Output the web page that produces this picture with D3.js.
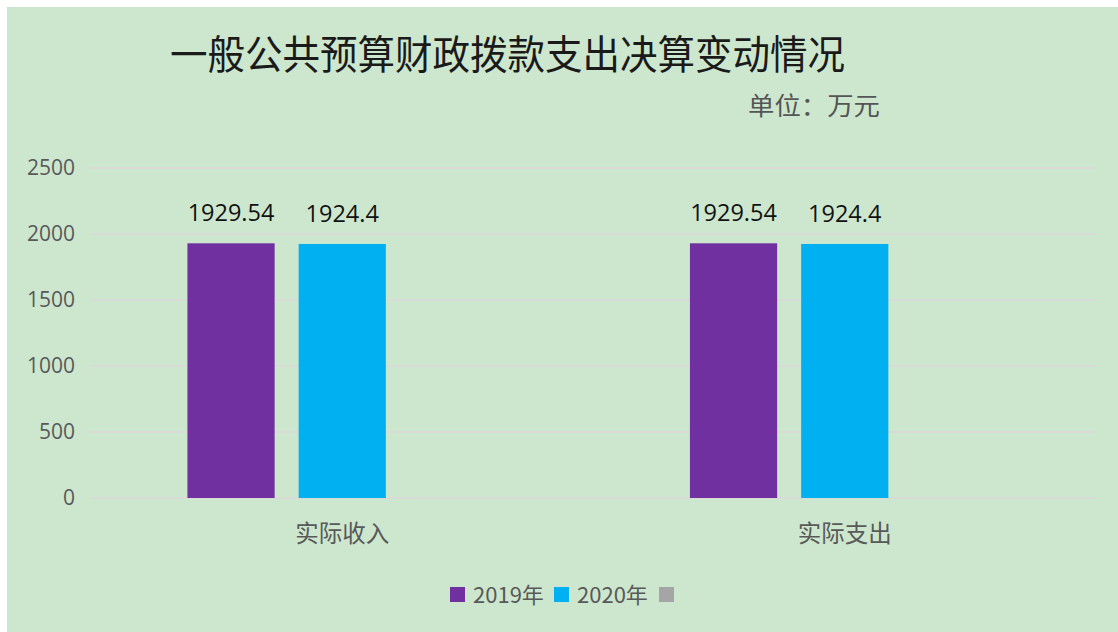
<!DOCTYPE html>
<html>
<head>
<meta charset="utf-8">
<script src="https://cdn.jsdelivr.net/npm/d3@7"></script>
<style>
  body { margin: 0; background: #fff; }
  svg text { font-family: "Noto Sans CJK SC", "Open Sans", sans-serif; }
</style>
</head>
<body>
<div id="chart"></div>
<script>
const categories = ["实际收入", "实际支出"];
const seriesNames = ["2019年", "2020年", ""];
const values2019 = [1929.54, 1929.54];
const values2020 = [1924.4, 1924.4];
const values3 = [null, null];
const yTicks = [0, 500, 1000, 1500, 2000, 2500];
const colors = ["#7030a0", "#00b0f0", "#a5a5a5"];

const W = 1118, H = 632;
const svg = d3.select("#chart").append("svg")
    .attr("width", W).attr("height", H);

// chart background
svg.append("rect").attr("x", 7).attr("y", 7).attr("width", W - 7).attr("height", H - 7)
    .attr("fill", "#cde7cf");

const plot = {left: 91, right: 1096, top: 168, bottom: 498};

const x0 = d3.scaleBand().domain(categories).range([plot.left, plot.right]);
const x1 = d3.scaleBand().domain(d3.range(seriesNames.length)).range([0, x0.bandwidth()])
    .paddingInner(0.216).paddingOuter(0.867);
const y = d3.scaleLinear().domain([0, 2500]).range([plot.bottom, plot.top]);

// gridlines
svg.append("g")
    .selectAll("line").data(yTicks).enter().append("line")
    .attr("x1", plot.left).attr("x2", plot.right)
    .attr("y1", d => y(d)).attr("y2", d => y(d))
    .attr("stroke", "#d8dbd6").attr("stroke-width", 2);

// y axis
const yAxis = svg.append("g")
    .attr("transform", `translate(${plot.left},0)`)
    .call(d3.axisLeft(y).tickValues(yTicks).tickFormat(d3.format("d")).tickSize(0).tickPadding(16));
yAxis.select(".domain").remove();
yAxis.selectAll("text").attr("font-size", 21).attr("fill", "#595959")
    .style("font-family", "'Open Sans', sans-serif");

// x axis labels
svg.append("g").selectAll("text").data(categories).enter().append("text")
    .attr("x", d => x0(d) + x0.bandwidth() / 2)
    .attr("y", 542)
    .attr("text-anchor", "middle")
    .attr("font-size", 23.5)
    .attr("fill", "#595959")
    .text(d => d);

const series = [values2019, values2020, values3];

series.forEach((vals, i) => {
    const g = svg.append("g");
    const rows = categories.map((c, j) => ({c, v: vals[j]})).filter(d => d.v != null);
    g.selectAll("rect").data(rows).enter().append("rect")
        .attr("x", d => x0(d.c) + x1(i))
        .attr("width", x1.bandwidth())
        .attr("y", d => y(d.v))
        .attr("height", d => y(0) - y(d.v))
        .attr("fill", colors[i]);
    g.selectAll("text").data(rows).enter().append("text")
        .attr("x", d => x0(d.c) + x1(i) + x1.bandwidth() / 2)
        .attr("y", d => y(d.v) - 22)
        .attr("text-anchor", "middle")
        .attr("font-size", 23.5)
        .attr("fill", "#111")
        .style("font-family", "'Open Sans', sans-serif")
        .text(d => d.v);
});

// title
svg.append("text")
    .attr("x", 170).attr("y", 69)
    .attr("font-size", 40)
    .attr("textLength", 675)
    .attr("lengthAdjust", "spacingAndGlyphs")
    .attr("fill", "#1a1a1a")
    .text("一般公共预算财政拨款支出决算变动情况");

svg.append("text")
    .attr("x", 748).attr("y", 115)
    .attr("font-size", 25)
    .attr("textLength", 132)
    .attr("lengthAdjust", "spacingAndGlyphs")
    .attr("fill", "#555")
    .text("单位：万元");

// legend
const legend = svg.append("g");
const legendX = [450, 554, 659];
seriesNames.forEach((name, i) => {
    legend.append("rect")
        .attr("x", legendX[i]).attr("y", 587)
        .attr("width", 15).attr("height", 15)
        .attr("fill", colors[i]);
    legend.append("text")
        .attr("x", legendX[i] + 23).attr("y", 603)
        .attr("font-size", 22)
        .attr("fill", "#595959")
        .text(name);
});
</script>
</body>
</html>
